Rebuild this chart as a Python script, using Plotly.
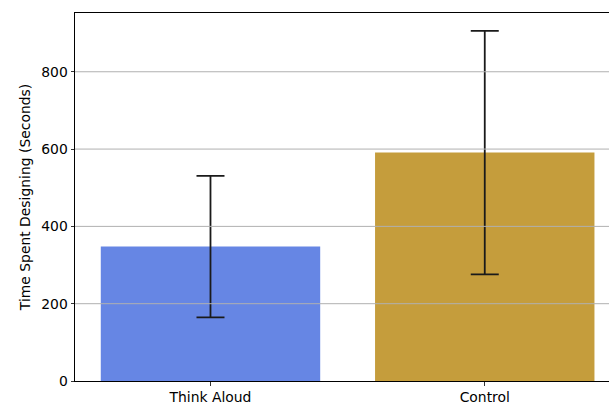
import plotly.graph_objects as go

categories = ["Think Aloud", "Control"]
means = [347.7, 591.0]
errors = [183.0, 315.0]
bar_colors = ["#6686e4", "#c59d3c"]
y_ticks = [0, 200, 400, 600, 800]
y_title = "Time Spent Designing (Seconds)"

fig = go.Figure()
fig.add_trace(go.Bar(
    x=list(range(len(categories))),
    y=means,
    width=0.8,
    marker=dict(color=bar_colors, line=dict(width=0)),
    error_y=dict(type="data", array=errors, visible=True,
                 color="#1a1a1a", thickness=1.8, width=14),
    showlegend=False,
    hoverinfo="skip",
))

for t in y_ticks[1:]:
    fig.add_shape(type="line", xref="paper", yref="y", x0=0, x1=1, y0=t, y1=t,
                  line=dict(color="#b0b0b0", width=1), layer="above")

fig.update_layout(
    width=609, height=405,
    margin=dict(l=75, r=0, t=13, b=24),
    plot_bgcolor="white", paper_bgcolor="white",
    font=dict(family="DejaVu Sans", size=13.9, color="black"),
    xaxis=dict(
        range=[-0.494, 1.453],
        tickmode="array", tickvals=list(range(len(categories))), ticktext=categories,
        showline=True, linecolor="black", linewidth=1, mirror=True,
        ticks="outside", ticklen=3.5, tickcolor="black", tickwidth=0.8,
        showgrid=False, zeroline=False,
    ),
    yaxis=dict(
        range=[0, 952],
        tickmode="array", tickvals=y_ticks,
        showline=True, linecolor="black", linewidth=1,
        ticks="outside", ticklen=3.5, tickcolor="black", tickwidth=0.8,
        showgrid=False, zeroline=False,
        title=dict(text=y_title, standoff=7, font=dict(size=13.9)),
    ),
)

fig.write_html(
    "out.html",
    config={"displayModeBar": False, "staticPlot": True},
    post_script="document.body.style.margin='0';document.body.style.overflow='hidden';",
)
